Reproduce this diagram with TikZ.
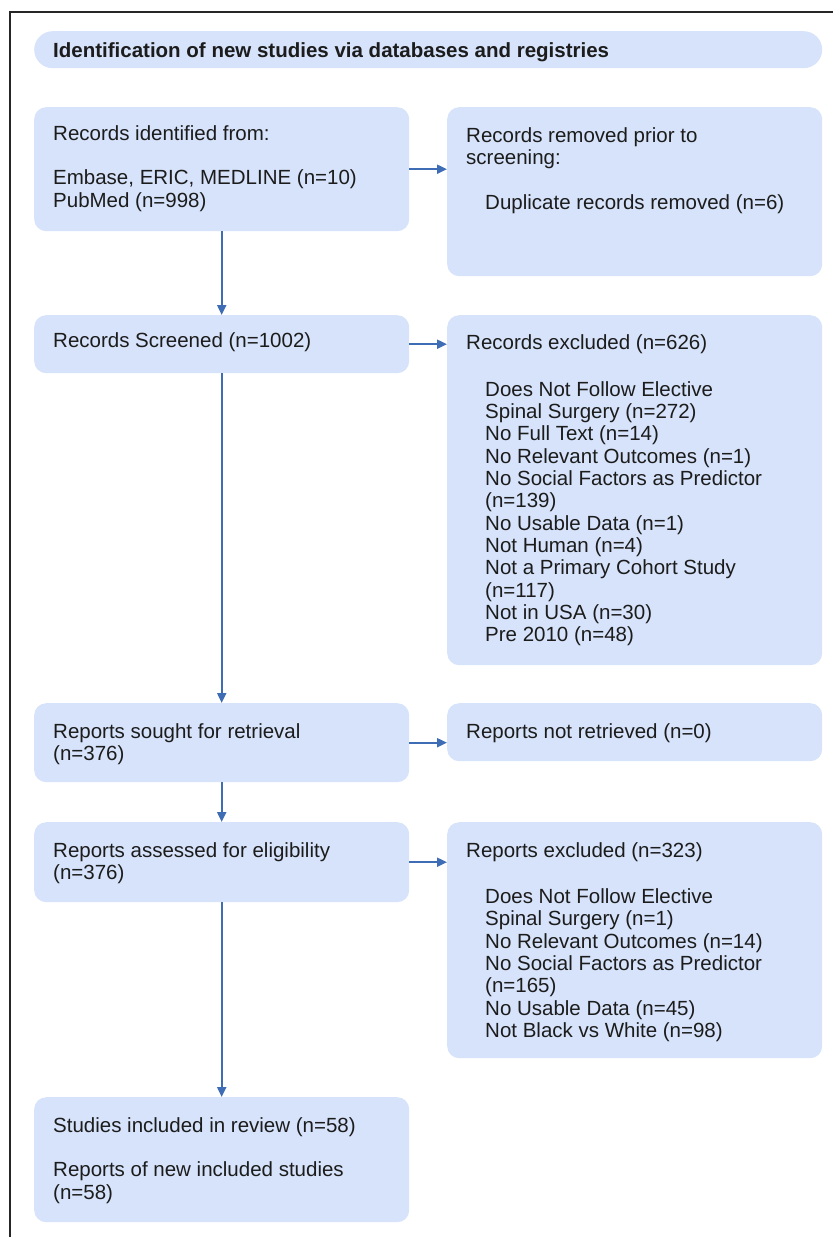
\documentclass[tikz,border=0pt]{standalone}
\usepackage{fontspec}
\setmainfont{Liberation Sans}
\usepackage{xcolor}
\usetikzlibrary{arrows.meta, calc, positioning}

\definecolor{boxblue}{RGB}{214,227,250}
\definecolor{flowblue}{RGB}{62,108,181}
\definecolor{inkgray}{RGB}{28,28,28}

\begin{document}
\begin{tikzpicture}[
        x=1pt, y=1pt,
        font=\fontsize{20.5}{22.3}\selectfont,
        >={Triangle[length=10pt,width=9pt]},
        box/.style={
            fill=boxblue, rounded corners=12pt,
            anchor=north west, inner sep=0pt,
            minimum width=375pt
        },
        % text nodes sit on the baseline of their last line
        txt/.style={
            anchor=base west, inner sep=0pt,
            align=left, text=inkgray
        },
        flow/.style={->, draw=flowblue, line width=2pt},
    ]

    \useasboundingbox (0,0) rectangle (833,-1237);

    % Frame (top and left edges only)
    \draw[line width=1.5pt, black!85] (10,-1237) -- (10,-12) -- (833,-12);

    %============================================================
    % Banner
    %============================================================
    \node[box, minimum width=788pt, minimum height=37pt, rounded corners=18.5pt] (banner) at (34,-31) {};
    \node[txt, font=\fontsize{20.5}{22.3}\selectfont\bfseries] (bannerT) at (53,-57.4)
        {Identification of new studies via databases and registries};

    %============================================================
    % Left column: main flow
    %============================================================
    \node[box, minimum height=124pt] (ident)  at (34,-107)  {};
    \node[box, minimum height=58pt]  (screen) at (34,-315)  {};
    \node[box, minimum height=79pt]  (sought) at (34,-703)  {};
    \node[box, minimum height=80pt]  (assess) at (34,-822)  {};
    \node[box, minimum height=125pt] (incl)   at (34,-1097) {};

    \node[txt] (identT) at (53,-207)
        {Records identified from:\\[22.3pt]Embase, ERIC, MEDLINE (n=10)\\PubMed (n=998)};
    \node[txt] (screenT) at (53,-347.4) {Records Screened (n=1002)};
    \node[txt] (soughtT) at (53,-760.7) {Reports sought for retrieval\\(n=376)};
    \node[txt] (assessT) at (53,-879.7) {Reports assessed for eligibility\\(n=376)};
    \node[txt] (inclT) at (53,-1199)
        {Studies included in review (n=58)\\[22.3pt]Reports of new included studies\\(n=58)};

    %============================================================
    % Right column: removals and exclusions
    %============================================================
    \node[box, minimum height=169pt] (removed) at (447,-107) {};
    \node[box, minimum height=350pt] (excl)    at (447,-315) {};
    \node[box, minimum height=58pt]  (notret)  at (447,-703) {};
    \node[box, minimum height=236pt] (repexcl) at (447,-822) {};

    \node[txt] (removedT) at (466,-164.6) {Records removed prior to\\screening:};
    \node[txt] (removedL) at (485,-209.4) {Duplicate records removed (n=6)};

    \node[txt] (exclT) at (466,-349.4) {Records excluded (n=626)};
    \node[txt] (exclL) at (485,-641.6)
        {Does Not Follow Elective\\Spinal Surgery (n=272)\\No Full Text (n=14)\\
         No Relevant Outcomes (n=1)\\No Social Factors as Predictor\\(n=139)\\
         No Usable Data (n=1)\\Not Human (n=4)\\Not a Primary Cohort Study\\
         (n=117)\\Not in USA (n=30)\\Pre 2010 (n=48)};

    \node[txt] (notretT) at (466,-738.4) {Reports not retrieved (n=0)};

    \node[txt] (repexclT) at (466,-857.4) {Reports excluded (n=323)};
    \node[txt] (repexclL) at (485,-1037.3)
        {Does Not Follow Elective\\Spinal Surgery (n=1)\\No Relevant Outcomes (n=14)\\
         No Social Factors as Predictor\\(n=165)\\No Usable Data (n=45)\\
         Not Black vs White (n=98)};

    %============================================================
    % Connectors
    %============================================================
    \foreach \a/\b in {ident/screen, screen/sought, sought/assess, assess/incl}
        \draw[flow] (\a.south) -- (\b.north);
    \foreach \a/\b in {ident/removed, screen/excl, sought/notret, assess/repexcl}
        \draw[flow] (\a.east) -- (\a.east -| \b.west);

\end{tikzpicture}
\end{document}
